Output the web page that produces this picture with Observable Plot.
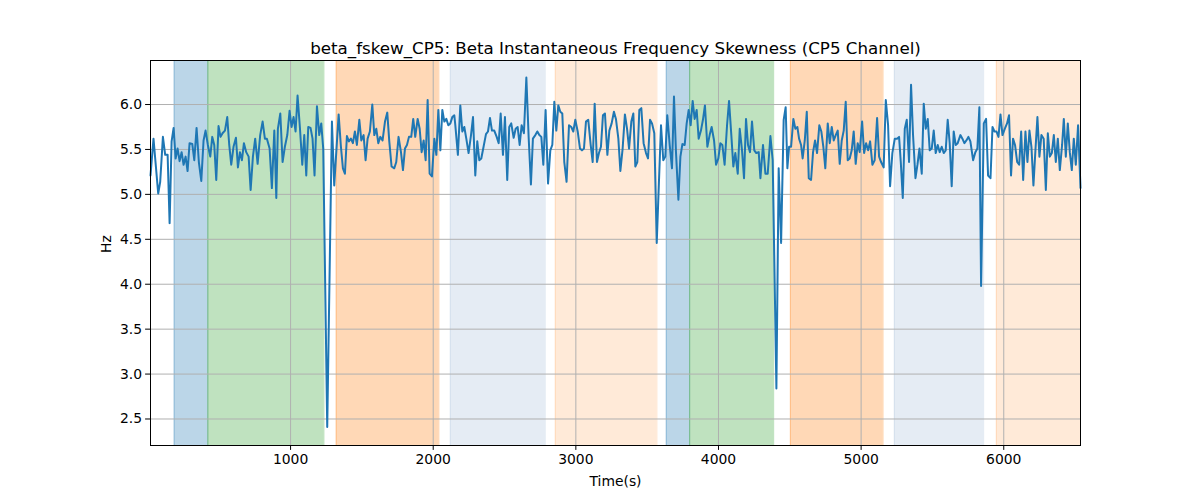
<!DOCTYPE html>
<html>
<head>
<meta charset="utf-8">
<script src="https://cdn.jsdelivr.net/npm/d3@7"></script>
<script src="https://cdn.jsdelivr.net/npm/@observablehq/plot@0.6"></script>
<style>
  html, body { margin: 0; padding: 0; background: #fff; }
  svg { display: block; }
</style>
</head>
<body>
<div id="chart"></div>
<script>
// ---- data ----
const titleText = "beta_fskew_CP5: Beta Instantaneous Frequency Skewness (CP5 Channel)";
const xLabel = "Time(s)";
const yLabel = "Hz";

const times = [
  18,39,72,86,105,121,138,152,166,180,194,208,222,236,250,264,278,292,311,325,
  341,357,374,390,404,420,437,451,465,479,495,509,523,540,556,570,584,600,617,631,
  645,659,673,689,706,720,736,752,769,787,804,820,834,853,869,886,900,911,928,944,
  960,977,993,1007,1021,1035,1049,1066,1082,1096,1110,1124,1140,1154,1168,1185,1201,1215,1229,1257,
  1290,1306,1337,1353,1367,1381,1395,1409,1423,1437,1451,1465,1482,1496,1512,1526,1540,1556,1573,1587,
  1601,1615,1629,1645,1662,1678,1692,1708,1727,1741,1757,1774,1788,1802,1816,1830,1846,1860,1874,1891,
  1905,1919,1933,1947,1961,1975,1991,2008,2022,2036,2050,2064,2078,2092,2106,2120,2134,2148,
  2155,2173,2190,2204,2218,2232,2248,2265,2279,2295,2309,2323,2337,2353,2370,2384,2398,2412,2428,2445,
  2459,2473,2489,2503,2519,2533,2547,2564,2578,2592,2606,2620,2636,2653,2669,2685,2699,2716,2730,2744,
  2758,2772,2788,2805,2821,2835,2849,2863,2877,2891,2905,2919,2935,2952,2968,2982,2996,3013,3029,3043,
  3057,3071,3087,3104,3118,3132,3148,3162,3176,3190,3204,3221,3235,3251,3267,3281,3298,3312,3328,3344,
  3359,3373,3389,3403,3417,3431,3445,3459,3475,3492,3506,3520,3534,3550,3567,3597,3613,3627,3641,3658,
  3674,3688,3702,3719,3733,3747,3763,3777,3791,3805,3819,3833,3847,3861,3877,3891,3905,3922,3938,3952,
  3969,3983,3999,4013,4027,4043,4060,4074,4090,4104,4118,4135,4149,4165,4179,4193,4207,4221,4235,4251,
  4265,4282,
  4294,4312,4329,4345,4364,4380,4406,4422,4439,4457,4471,4483,4495,4509,4525,4539,4553,4565,4579,4590,
  4605,4619,4633,4649,4663,4677,4691,4707,4721,4735,4749,4766,4780,4794,4808,4822,4836,4850,4864,4878,
  4892,4906,4920,4934,4948,4962,4976,4990,5007,5021,5035,5049,5063,5079,5095,5112,5126,5140,5158,5173,
  5189,5203,5219,5236,5252,5266,5278,5292,5306,5320,5336,5350,5364,5381,5395,5409,5425,5439,5453,5467,
  5481,5495,5509,5523,5537,5551,5565,5579,5593,5607,5621,5635,5649,5663,5677,5696,5710,5724,5738,5752,
  5766,5785,5801,5815,5829,5841,5860,5876,5890,5907,5921,5935,5949,5963,5977,5991,6007,6023,6037,6051,
  6065,6079,6094,6108,6122,6136,6152,6166,6180,6194,6208,6222,6236,6250,6264,6280,6295,6309,6323,6337,
  6351,6365,6379,6393,6409,6421,6435,6449,6463,6477,6491,6505,6521,6538
];

const values = [
  5.21,5.62,5.01,5.14,5.64,5.44,5.44,4.68,5.59,5.74,5.40,5.51,5.37,5.47,5.33,5.42,5.26,5.57,5.56,5.38,
  5.74,5.36,5.15,5.60,5.71,5.55,5.42,5.64,5.55,5.16,5.76,5.64,5.68,5.71,5.86,5.55,5.33,5.53,5.63,5.30,
  5.47,5.38,5.57,5.47,5.42,5.05,5.42,5.62,5.34,5.66,5.81,5.62,5.62,5.51,5.07,5.71,4.96,5.73,5.90,5.36,
  5.53,5.66,5.93,5.75,5.86,5.70,6.10,5.73,5.33,5.66,5.21,5.75,5.74,5.62,5.21,5.98,5.66,5.79,5.51,2.41,
  5.81,5.10,5.89,5.53,5.29,5.23,5.65,5.59,5.62,5.57,5.70,5.55,5.83,5.60,5.66,5.38,5.62,5.70,6.00,5.66,
  5.73,5.57,5.64,5.60,5.81,5.91,5.59,5.31,5.29,5.36,5.64,5.47,5.27,5.51,5.55,5.64,5.64,5.84,5.64,5.84,
  5.73,5.47,5.60,5.38,6.05,5.23,5.20,5.62,5.44,5.94,5.49,5.94,5.81,5.84,5.77,5.79,5.86,5.88,
  5.77,5.44,5.99,5.70,5.75,5.62,5.46,5.66,5.86,5.21,5.59,5.38,5.40,5.53,5.67,5.70,5.85,5.71,5.71,5.64,
  5.57,5.90,5.44,5.86,5.16,5.75,5.79,5.63,5.73,5.75,5.55,5.77,5.68,6.30,5.64,5.11,5.62,5.66,5.70,5.66,
  5.64,5.33,5.94,5.12,5.49,5.55,6.03,5.71,5.99,5.92,5.90,5.36,5.14,5.77,5.75,5.70,5.83,5.70,5.51,5.49,
  5.51,5.81,5.83,5.55,5.36,6.01,5.36,5.46,5.53,5.88,5.90,5.44,5.71,5.79,5.92,5.84,5.62,5.26,5.51,5.89,
  5.73,5.51,5.81,5.90,5.31,5.36,5.94,5.96,5.57,5.46,5.40,5.83,5.79,5.68,4.46,5.77,5.38,5.42,5.88,5.55,
  5.29,6.09,5.47,4.94,5.42,5.56,5.55,5.79,5.94,5.77,6.04,5.84,5.94,5.62,5.71,5.83,5.99,5.53,5.66,5.75,
  5.60,5.33,5.40,5.57,5.55,5.33,5.77,6.04,5.66,5.31,5.46,5.23,5.73,5.49,5.18,5.84,5.55,5.47,5.81,5.49,
  5.46,5.47,
  5.18,5.55,5.23,5.23,5.65,5.38,2.84,5.29,4.46,5.83,5.97,5.29,5.53,5.53,5.84,5.73,5.75,5.62,5.55,5.40,
  5.60,5.92,5.18,5.16,5.47,5.60,5.46,5.77,5.70,5.53,5.29,5.79,5.57,5.75,5.60,5.66,5.71,5.34,5.60,5.71,
  6.03,5.38,5.40,5.49,5.70,5.34,5.57,5.47,5.81,5.46,5.57,5.49,5.59,5.33,5.38,5.85,5.42,5.36,5.30,6.05,
  5.77,5.09,5.46,5.62,5.62,5.64,5.36,4.96,5.73,5.83,5.36,6.22,5.66,5.18,5.33,5.51,5.23,6.01,5.73,5.84,
  5.49,5.51,5.71,5.46,5.55,5.47,5.53,5.46,5.49,5.83,5.57,5.09,5.70,5.55,5.57,5.66,5.62,5.57,5.60,5.64,
  5.59,5.38,5.47,5.51,5.97,3.98,5.79,5.84,5.21,5.18,5.75,5.70,5.70,5.64,5.89,5.66,5.73,5.79,5.88,5.21,
  5.62,5.55,5.36,5.33,5.70,5.16,5.70,5.36,5.71,5.53,5.10,5.49,5.86,5.42,5.66,5.62,5.05,5.68,5.42,5.46,
  5.66,5.36,5.62,5.27,5.55,5.84,5.42,5.79,5.47,5.27,5.62,5.33,5.77,5.07
];

// shaded epochs
const bandStart = [184, 420, 1320, 2120, 2856, 3634, 3798, 4504, 5233, 5948];
const bandEnd   = [420, 1234, 2040, 2786, 3569, 3798, 4387, 5154, 5859, 6538];
const bandKind  = ["blue","green","orange","lightblue","lightorange","blue","green","orange","lightblue","lightorange"];

const xTicks = [1000, 2000, 3000, 4000, 5000, 6000];
const yTicks = [2.5, 3.0, 3.5, 4.0, 4.5, 5.0, 5.5, 6.0];
const xDomain = [18, 6538];
const yDomain = [2.205, 6.49];

// ---- styles ----
const bandStyle = {
  blue:        {fill: "#1f77b4", opacity: 0.3},
  green:       {fill: "#2ca02c", opacity: 0.3},
  orange:      {fill: "#ff7f0e", opacity: 0.3},
  lightblue:   {fill: "#b0c4de", opacity: 0.33},
  lightorange: {fill: "#ff7f0e", opacity: 0.16}
};

const n = Math.min(times.length, values.length);
const series = d3.range(n).map(i => ({t: times[i], v: values[i]}));
const bands = bandStart.map((s, i) => ({start: s, end: bandEnd[i], kind: bandKind[i]}));
const kinds = Object.keys(bandStyle);

const font = "DejaVu Sans, Liberation Sans, sans-serif";

const bandMarks = kinds.flatMap(k => {
  const data = bands.filter(b => b.kind === k);
  const st = bandStyle[k];
  return [
    Plot.rect(data, {x1: "start", x2: "end", fill: st.fill, fillOpacity: st.opacity}),
    Plot.ruleX(data, {x: "start", stroke: st.fill, strokeOpacity: st.opacity, strokeWidth: 1}),
    Plot.ruleX(data, {x: "end", stroke: st.fill, strokeOpacity: st.opacity, strokeWidth: 1})
  ];
});

const chart = Plot.plot({
  width: 1200,
  height: 500,
  marginLeft: 150,
  marginRight: 120,
  marginTop: 60,
  marginBottom: 55,
  style: {fontFamily: font, fontSize: "13.9px", color: "#000", background: "#fff", overflow: "visible"},
  x: {domain: xDomain, label: null},
  y: {domain: yDomain, label: null},
  marks: [
    ...bandMarks,
    Plot.gridX(xTicks, {stroke: "#b0b0b0", strokeOpacity: 1, strokeWidth: 1}),
    Plot.gridY(yTicks, {stroke: "#b0b0b0", strokeOpacity: 1, strokeWidth: 1}),
    Plot.line(series, {x: "t", y: "v", stroke: "#1f77b4", strokeWidth: 2, strokeLinejoin: "round"}),
    Plot.frame({stroke: "#000", strokeWidth: 1}),
    Plot.axisX(xTicks, {tickSize: 4.9, tickPadding: 3.5, tickFormat: d => String(d), fontSize: 13.9, label: null}),
    Plot.axisY(yTicks, {tickSize: 4.9, tickPadding: 3.5, tickFormat: d => d.toFixed(1), fontSize: 13.9, label: null}),
    Plot.text([titleText], {frameAnchor: "top", lineAnchor: "bottom", dy: -7, fontSize: 16.7, fill: "#000"}),
    Plot.text([xLabel], {frameAnchor: "bottom", lineAnchor: "middle", dy: 36, fontSize: 13.9, fill: "#000"}),
    Plot.text([yLabel], {frameAnchor: "left", lineAnchor: "middle", dx: -44, rotate: -90, fontSize: 13.9, fill: "#000"})
  ]
});

document.getElementById("chart").appendChild(chart);
</script>
</body>
</html>
